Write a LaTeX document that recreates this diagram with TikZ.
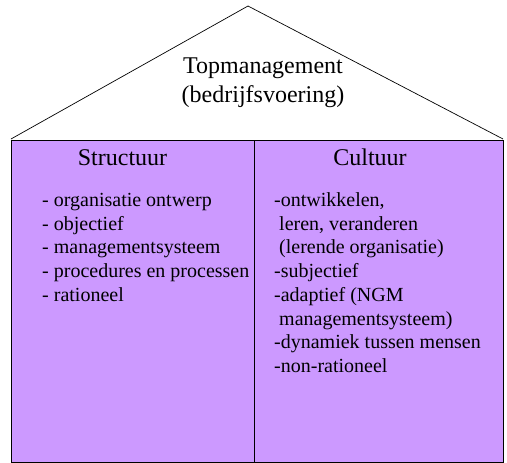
\documentclass[tikz,border=0pt]{standalone}
\usepackage{fontspec}
\setmainfont{Liberation Serif}
\definecolor{paneviolet}{HTML}{CC99FF}
\begin{document}
\begin{tikzpicture}[x=1pt,y=-1pt,
  heading/.style={inner sep=0pt,anchor=base,font=\fontsize{24}{28}\selectfont},
  item/.style={inner sep=0pt,anchor=base west,font=\fontsize{20}{23.7}\selectfont},
  pane/.style={draw=black,line width=0.9pt,fill=paneviolet,inner sep=0pt,
               minimum height=322pt,anchor=north west}]
  \useasboundingbox (0,0) rectangle (507,463);

  % roof
  \coordinate (apex) at (248,6);
  \coordinate (eaveL) at (11,139);
  \coordinate (eaveR) at (503,139);
  \draw[line width=0.7pt,line join=miter] (eaveL) -- (apex) -- (eaveR);

  % the two pillars of the house
  \node[pane,minimum width=243pt] (structuur) at (11,140) {};
  \node[pane,minimum width=249pt] (cultuur) at (254,140) {};

  % roof text
  \node[heading] (top1) at (263,73) {Topmanagement};
  \node[heading] (top2) at (263,102) {(bedrijfsvoering)};

  % column headings
  \node[heading] (hS) at (122.5,165) {Structuur};
  \node[heading] (hC) at (370,165) {Cultuur};

  % structure items
  \foreach \t [count=\i] in {- organisatie ontwerp,- objectief,- managementsysteem,
      - procedures en processen,- rationeel}
    \node[item] (s\i) at (42,{206.5+(\i-1)*23.7}) {\t};

  % culture items
  \node[item] (c1) at (274,206.5) {-ontwikkelen,};
  \node[item] (c2) at (279,230.2) {leren, veranderen};
  \node[item] (c3) at (279,253.9) {(lerende organisatie)};
  \node[item] (c4) at (274,277.6) {-subjectief};
  \node[item] (c5) at (274,301.3) {-adaptief (NGM};
  \node[item] (c6) at (279,325.0) {managementsysteem)};
  \node[item] (c7) at (274,348.7) {-dynamiek tussen mensen};
  \node[item] (c8) at (274,372.4) {-non-rationeel};
\end{tikzpicture}
\end{document}
